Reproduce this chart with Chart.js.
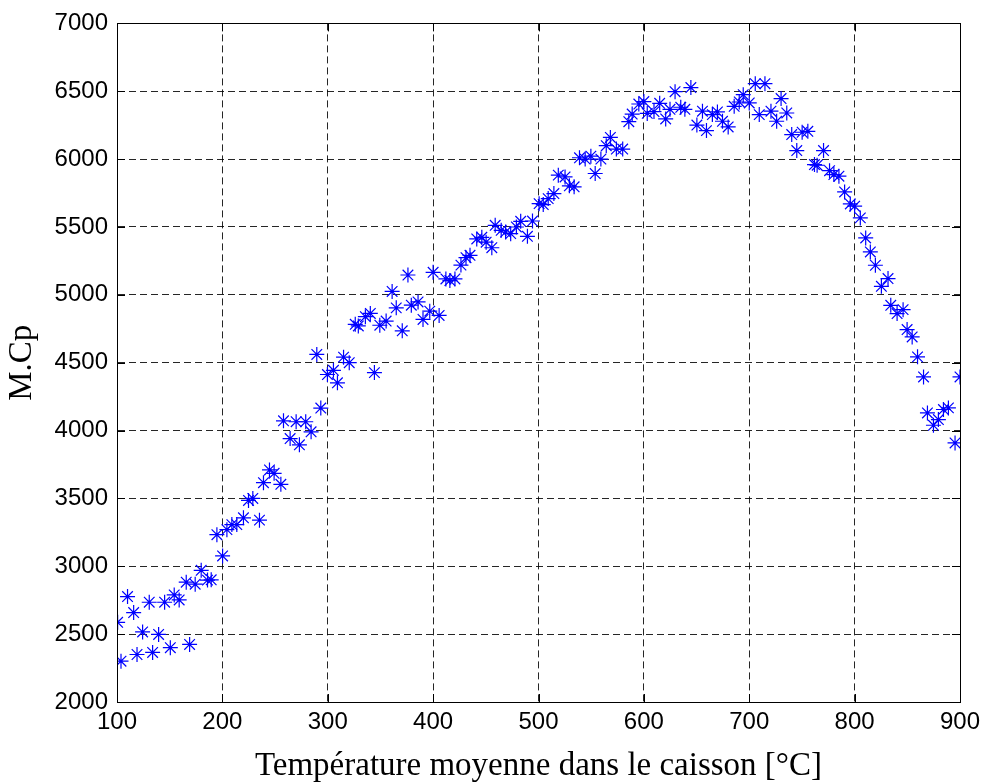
<!DOCTYPE html>
<html>
<head>
<meta charset="utf-8">
<script src="https://cdn.jsdelivr.net/npm/chart.js@4/dist/chart.umd.min.js"></script>
<style>
html,body{margin:0;padding:0;background:#fff;}
#wrap{width:987px;height:784px;position:relative;}
</style>
</head>
<body>
<div id="wrap"><canvas id="c" width="987" height="784"></canvas></div>
<script>
// Temperature (°C) readings
const temperature = [
100.6,103.8,110.0,115.8,119.0,124.3,130.6,133.8,139.5,145.2,
150.6,154.3,159.0,165.7,168.9,174.2,179.9,185.9,189.4,194.8,
200.2,204.3,209.0,213.7,220.0,224.8,228.9,235.2,239.0,244.7,
249.1,255.5,258.0,264.3,270.0,273.1,279.1,284.2,289.6,293.4,
299.7,305.4,309.2,315.0,320.4,326.1,329.0,335.7,340.4,344.3,
349.4,355.4,361.1,365.0,370.7,376.1,379.3,385.7,390.4,396.8,
400.0,405.7,412.1,415.9,420.7,426.4,431.2,435.0,441.4,446.2,
450.3,455.7,458.9,464.6,468.8,473.6,479.0,483.1,489.5,494.3,
500.6,504.5,509.2,514.6,518.8,525.2,529.3,533.8,538.9,544.3,
549.7,553.8,559.2,564.3,568.2,573.9,579.9,585.7,588.9,595.2,
600.0,603.2,609.6,615.0,620.7,624.8,629.6,635.0,638.9,644.6,
650.3,655.6,659.4,665.0,669.8,674.6,680.0,685.7,690.5,694.3,
700.0,705.7,709.5,714.9,720.6,726.0,730.2,735.6,740.3,745.1,
750.2,755.6,761.9,764.4,770.5,776.2,780.3,785.1,790.5,795.9,
800.0,805.4,810.5,814.9,819.7,825.4,831.7,834.3,840.3,846.0,
849.8,854.6,859.7,865.4,869.1,874.8,879.5,884.3,889.0,895.3,
900.0
];
// M.Cp values
const mcp = [
2587,2301,2777,2659,2350,2516,2735,2365,2498,2735,
2400,2789,2752,2883,2424,2868,2970,2898,2900,3233,
3076,3270,3307,3307,3357,3485,3500,3340,3616,3710,
3685,3604,4072,3941,4065,3895,4065,3991,4561,4166,
4413,4444,4352,4541,4500,4783,4771,4839,4863,4427,
4776,4807,5025,4904,4735,5146,4924,4948,4819,4880,
5166,4848,5117,5105,5117,5219,5274,5291,5412,5424,
5388,5347,5512,5475,5463,5451,5500,5542,5431,5544,
5672,5665,5709,5746,5882,5869,5803,5796,6010,6000,
6022,5894,6000,6099,6160,6074,6074,6276,6332,6406,
6424,6337,6350,6411,6296,6367,6497,6382,6367,6527,
6251,6353,6210,6328,6348,6279,6237,6389,6421,6475,
6414,6556,6328,6556,6353,6279,6446,6340,6181,6063,
6198,6205,5960,5955,6063,5915,5886,5874,5758,5670,
5653,5567,5419,5316,5218,5063,5120,4923,4862,4891,
4744,4690,4543,4395,4130,4039,4081,4155,4167,3909,
4395
];
const xTicks = [100,200,300,400,500,600,700,800,900];
const yTicks = [2000,2500,3000,3500,4000,4500,5000,5500,6000,6500,7000];
const xTitle = 'Température moyenne dans le caisson [°C]';
const yTitle = 'M.Cp';

const points = temperature.map((t,i)=>({x:t,y:mcp[i]}));

const framePlugin = {
  id:'frame',
  afterDatasetsDraw(chart){
    const {ctx, chartArea:a, scales} = chart;
    ctx.save();
    ctx.strokeStyle='#000';
    ctx.lineWidth=1;
    ctx.setLineDash([]);
    ctx.beginPath();
    const tl=8;
    scales.x.ticks.forEach((t,i)=>{
      const px=Math.round(scales.x.getPixelForTick(i))+0.5;
      ctx.moveTo(px,a.bottom); ctx.lineTo(px,a.bottom-tl);
      ctx.moveTo(px,a.top); ctx.lineTo(px,a.top+tl);
    });
    scales.y.ticks.forEach((t,i)=>{
      const py=Math.round(scales.y.getPixelForTick(i))+0.5;
      ctx.moveTo(a.left,py); ctx.lineTo(a.left+tl,py);
      ctx.moveTo(a.right,py); ctx.lineTo(a.right-tl,py);
    });
    ctx.stroke();
    ctx.strokeRect(Math.round(a.left)+0.5,Math.round(a.top)+0.5,Math.round(a.right-a.left),Math.round(a.bottom-a.top));
    ctx.restore();
  }
};

new Chart(document.getElementById('c'),{
  type:'scatter',
  data:{datasets:[{
    data:points,
    pointStyle:'star',
    pointRadius:7.5,
    pointHoverRadius:7.5,
    borderColor:'#0000ff',
    backgroundColor:'#0000ff',
    pointBorderWidth:1.2
  }]},
  options:{
    responsive:false,
    animation:false,
    events:[],
    layout:{padding:{left:0,top:22,right:27,bottom:0}},
    plugins:{legend:{display:false},tooltip:{enabled:false}},
    scales:{
      x:{
        type:'linear',min:100,max:900,
        afterBuildTicks(s){s.ticks=xTicks.map(v=>({value:v}));},
        afterFit(s){s.height=82;},
        grid:{color:'rgba(0,0,0,0.85)',lineWidth:1,drawTicks:false},
        border:{display:true,color:'#000',width:1,dash:[7,4]},
        ticks:{color:'#000',padding:6,maxRotation:0,autoSkip:false,
          font:{family:'"Liberation Sans", Arial, sans-serif',size:24},
          callback:v=>String(v)},
        title:{display:true,text:xTitle,color:'#000',
          font:{family:'"Liberation Serif","Times New Roman",serif',size:33},
          padding:{top:0,bottom:-2}}
      },
      y:{
        type:'linear',min:2000,max:7000,
        afterBuildTicks(s){s.ticks=yTicks.map(v=>({value:v}));},
        afterFit(s){s.width=117;},
        grid:{color:'rgba(0,0,0,0.85)',lineWidth:1,drawTicks:false},
        border:{display:true,color:'#000',width:1,dash:[7,4]},
        ticks:{color:'#000',padding:9,autoSkip:false,
          font:{family:'"Liberation Sans", Arial, sans-serif',size:24},
          callback:v=>String(v)},
        title:{display:true,text:yTitle,color:'#000',
          font:{family:'"Liberation Serif","Times New Roman",serif',size:33},
          padding:{top:3,bottom:0}}
      }
    }
  },
  plugins:[framePlugin]
});
</script>
</body>
</html>
